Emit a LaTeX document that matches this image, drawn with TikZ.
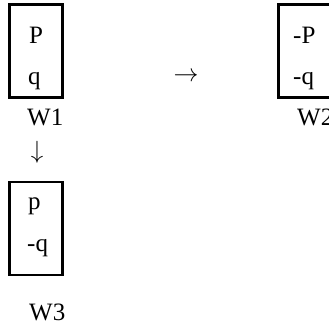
\documentclass[tikz,border=0pt]{standalone}
\usepackage{fontspec}
\setmainfont{Liberation Serif}
\usetikzlibrary{positioning}

\begin{document}
\begin{tikzpicture}[x=1pt,y=-1pt]

%Define sizes of the world boxes
\def\bw{53}          %Width of a world box.
\def\bh{93}          %Height of a world box.
\def\fs{\fontsize{25}{30}\selectfont}

\tikzset{
    world/.style={draw,line width=2.6pt,inner sep=0pt,minimum width=\bw,minimum height=\bh},
    lit/.style={anchor=base west,inner sep=0pt,font=\fs},
    glyph/.style={inner sep=0pt,font=\fs}
}

\useasboundingbox (0,0) rectangle (329,325);

% Define coordinates.
    \coordinate (c1) at (36,51);
    \coordinate (c2) at (305,51);
    \coordinate (c3) at (36,228.5);

% WORLD 1
    \node[world] (w1) at (c1) {};
    \node[lit] (w1p) at (29,43) {P};
    \node[lit] (w1q) at (28,84) {q};
    \node[lit] (w1name) at (27,125) {W1};

% WORLD 2
    \node[world] (w2) at (c2) {};
    \node[lit] (w2p) at (293,43) {-P};
    \node[lit] (w2q) at (293,84) {-q};
    \node[lit] (w2name) at (297,125) {W2};

% WORLD 3
    \node[world] (w3) at (c3) {};
    \node[lit] (w3p) at (28,209) {p};
    \node[lit] (w3q) at (27,251) {-q};
    \node[lit] (w3name) at (29,320) {W3};

% Arrows between the worlds
    \node[glyph] (to2) at (186,77) {$\rightarrow$};
    \node[glyph] (to3) at (37,152) {$\downarrow$};

\end{tikzpicture}
\end{document}
